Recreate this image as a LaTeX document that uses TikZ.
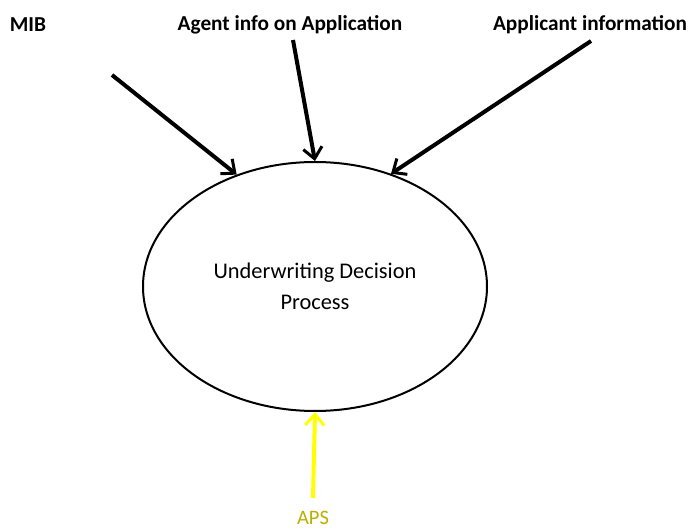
\documentclass[tikz,border=0pt]{standalone}
\usepackage{fontspec}
\setmainfont{Carlito}
\usetikzlibrary{arrows.meta,shapes.geometric}
\definecolor{apsyellow}{RGB}{255,255,0}
\definecolor{apstext}{RGB}{185,175,0}
\tikzset{
  lbl/.style={font=\fontsize{21.3}{25}\selectfont\bfseries, inner sep=0pt, anchor=center},
  arr/.style={line width=4pt, -{Straight Barb[length=11pt,width=19pt,line width=3pt]}},
  yarr/.style={arr, draw=apsyellow},
  proc/.style={ellipse, draw, line width=2pt, minimum width=344pt, minimum height=249pt, inner sep=0pt, align=center, font=\fontsize{22.4}{31}\selectfont}
}
\begin{document}
\begin{tikzpicture}[x=1pt,y=-1pt]
\useasboundingbox (0,0) rectangle (689,529);
\node[lbl] (mib) at (28,25) {MIB};
\node[lbl] (agent) at (290,25) {Agent info on Application};
\node[lbl] (applicant) at (590,25) {Applicant information};
\node[proc] (proc) at (315,286.5) {Underwriting Decision\\Process};
\node[inner sep=0pt, font=\fontsize{20.5}{24}\selectfont, text=apstext] (aps) at (313,518) {APS};
\coordinate (mibstart) at (112,75);
\coordinate (agentstart) at (293,40);
\coordinate (applstart) at (591,41);
\coordinate (apsstart) at (313,498);
\draw[arr] (mibstart) -- (proc.125.5);
\draw[arr] (agentstart) -- (proc.north);
\draw[arr] (applstart) -- (proc.56);
\draw[yarr] (apsstart) -- (proc.south);
\end{tikzpicture}
\end{document}
